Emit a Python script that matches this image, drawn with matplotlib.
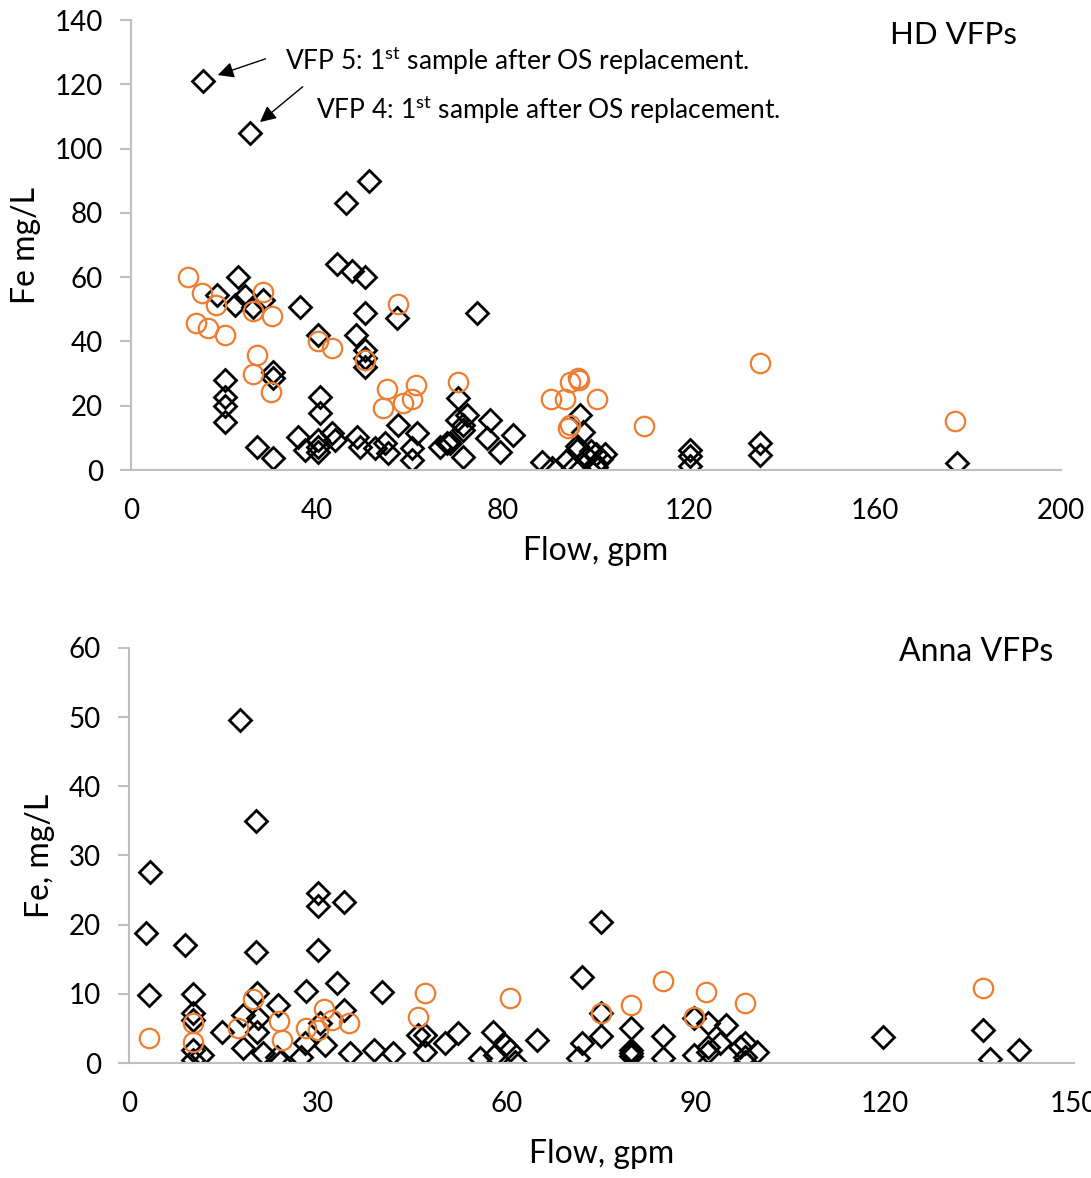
import matplotlib
matplotlib.use('Agg')
import matplotlib.pyplot as plt

plt.rcParams['font.family'] = ['Lato', 'DejaVu Sans']
plt.rcParams['mathtext.fontset'] = 'custom'
plt.rcParams['mathtext.rm'] = 'Lato'

# HD VFPs - black diamonds (flow gpm, Fe mg/L)
hd_black_x = [15.5, 25.6, 46.2, 51.2, 44.3, 47.5, 50.3, 23.0, 18.5, 22.4, 24.5, 26.2, 28.4,
              36.3, 50.3, 57.2, 74.4, 40.2, 48.4, 50.3, 50.3, 50.3, 20.2, 20.2, 20.2, 20.2,
              30.5, 30.5, 40.6, 40.6, 27.1, 30.5, 35.9, 37.4, 40.2, 40.2, 40.2, 43.2, 43.9,
              48.6, 49.2, 52.5, 54.6, 55.3, 57.4, 61.5, 60.4, 60.4, 66.5, 68.6, 70.3, 70.1,
              72.3, 71.4, 71.4, 71.4, 77.2, 76.6, 79.4, 82.2, 68.0, 88.4, 90.5, 96.6, 97.2,
              95.9, 100.0, 102.0, 100.0, 93.8, 95.0, 96.0, 98.0, 99.0, 101.0, 100.0,
              120.2, 120.2, 120.2, 135.3, 135.3, 177.6]
hd_black_y = [121, 105, 83, 90, 64, 62, 60, 60, 54.5, 51.3, 54, 50.8, 53,
              50.7, 49, 47.3, 49, 42, 42, 37.3, 32, 35, 28, 22.7, 20, 15,
              30.5, 28.6, 22.7, 17.7, 7.2, 3.7, 10.3, 6.2, 9.3, 7.2, 5.5, 11.5, 9.3,
              10.3, 7.2, 6.8, 8.4, 5.3, 14, 11.5, 6.8, 3.1, 7.2, 8.4, 22.4, 15.6,
              17, 14, 12.4, 4, 15.6, 10, 5.6, 10.9, 8.4, 2.5, 0.6, 17, 11.8,
              6.2, 5.0, 5.0, 2.0, 3.1, 0.6, 7.5, 4.0, 6.0, 3.5, 1.0,
              6.2, 4.5, 1.2, 8.4, 4.7, 2.2]

# HD VFPs - orange circles
hd_orange_x = [12.3, 15.3, 18.3, 14.0, 16.6, 20.2, 28.4, 26.2, 30.3, 27.1, 26.2, 30.1,
               40.2, 43.2, 50.3, 57.4, 55.0, 54.2, 58.5, 60.4, 61.3, 70.3,
               90.3, 93.3, 94.4, 96.1, 96.3, 100.2, 94.4, 94.0, 110.3, 135.3, 177.2]
hd_orange_y = [60, 55, 51.3, 45.7, 44.2, 42, 55.4, 49.5, 48, 35.8, 29.9, 24.3,
               40.1, 37.9, 34.2, 51.6, 25.2, 19.3, 20.8, 22, 26.4, 27.4,
               22, 22, 27.4, 28.6, 28, 22, 14, 13, 13.8, 33.3, 15.2]

# Anna VFPs - black diamonds
an_black_x = [17.6, 20.2, 3.3, 2.7, 3.2, 9.0, 20.2, 30.0, 30.0, 34.1, 30.0, 74.9, 71.9, 40.2,
              10.2, 10.2, 10.2, 10.2, 11.6, 10.2, 14.8, 18.1, 18.1, 20.3, 20.5, 20.3, 21.3,
              23.7, 23.5, 24.0, 27.4, 28.1, 28.0, 30.3, 31.1, 33.0, 34.1, 35.1, 39.0, 41.9,
              45.9, 47.0, 47.0, 50.2, 52.2, 55.7, 57.8, 58.1, 59.7, 60.5, 61.3, 64.8,
              71.9, 71.3, 74.9, 74.9, 79.8, 79.8, 79.8, 79.8, 84.8, 84.8, 89.8, 91.9, 94.9,
              93.8, 91.9, 91.9, 89.8, 97.8, 97.0, 97.8, 97.8, 99.8, 119.7, 135.6, 136.7, 141.4]
an_black_y = [49.6, 35, 27.6, 18.8, 9.8, 17, 16, 24.6, 22.7, 23.3, 16.3, 20.4, 12.4, 10.3,
              10, 7.2, 6.2, 0.4, 1.2, 1.9, 4.5, 6.9, 2.2, 10.1, 6.5, 4.5, 1.4,
              8.4, 0.9, 0.1, 0.9, 10.4, 2.9, 5.8, 2.6, 11.6, 7.7, 1.4, 1.9, 1.4,
              4, 4, 1.6, 2.9, 4.3, 0.7, 4.5, 1.2, 2.6, 1.9, 0.2, 3.3,
              2.9, 0.7, 7.2, 3.9, 5.1, 1.9, 1.4, 1.0, 3.9, 0.7, 6.5, 5.8, 5.5,
              2.9, 2.3, 1.6, 1.2, 2.9, 2.3, 0.1, 0.9, 1.6, 3.8, 4.8, 0.6, 1.9]

# Anna VFPs - orange circles
an_orange_x = [3.2, 10.2, 10.2, 17.3, 19.8, 23.8, 24.3, 28.1, 30.0, 31.0, 32.2, 34.9,
               46.0, 47.0, 60.5, 74.9, 79.8, 84.8, 91.7, 89.8, 97.8, 135.6]
an_orange_y = [3.6, 5.8, 3.0, 5.1, 9.2, 6.1, 3.3, 5.1, 4.8, 7.8, 6.2, 5.8,
               6.6, 10.1, 9.4, 7.2, 8.4, 11.9, 10.3, 6.7, 8.7, 10.8]

ORANGE = '#ED7D31'
GRAY = '#BFBFBF'


def style_axes(ax):
    for s in ['top', 'right']:
        ax.spines[s].set_visible(False)
    for s in ['left', 'bottom']:
        ax.spines[s].set_color(GRAY)
        ax.spines[s].set_linewidth(1.5)
    ax.tick_params(axis='y', colors=GRAY, labelcolor='black', labelsize=20,
                   direction='out', length=8, width=1.5, pad=12)
    ax.tick_params(axis='x', colors=GRAY, labelcolor='black', labelsize=20,
                   length=0, pad=20)


fig = plt.figure(figsize=(10.91, 11.78), dpi=100)

# top chart
ax1 = fig.add_axes([0.120, 0.601, 0.8525, 0.382])
ax1.plot(hd_black_x, hd_black_y, linestyle='none', marker='D', markersize=11,
         markerfacecolor='none', markeredgecolor='black', markeredgewidth=2.0)
ax1.plot(hd_orange_x, hd_orange_y, linestyle='none', marker='o', markersize=14,
         markerfacecolor='none', markeredgecolor=ORANGE, markeredgewidth=1.6)
ax1.set_xlim(0, 200)
ax1.set_ylim(0, 140)
ax1.set_xticks(range(0, 201, 40))
ax1.set_yticks(range(0, 141, 20))
style_axes(ax1)
ax1.set_xlabel('Flow, gpm', fontsize=23, labelpad=9)
ax1.set_ylabel('Fe mg/L', fontsize=23, labelpad=10)
ax1.text(0.884, 0.967, 'HD VFPs', transform=ax1.transAxes, fontsize=22.5,
         ha='center', va='center')
ax1.annotate('', xy=(18.1, 122.6), xytext=(29.5, 128.2),
             arrowprops=dict(arrowstyle='-|>', color='black', lw=1, mutation_scale=24))
ax1.text(33.1, 127.3, r'VFP 5: 1$^{\mathrm{st}}$ sample after OS replacement.',
         fontsize=19, va='center', ha='left')
ax1.annotate('', xy=(27.3, 107.7), xytext=(37.4, 119.8),
             arrowprops=dict(arrowstyle='-|>', color='black', lw=1, mutation_scale=24))
ax1.text(39.8, 112.0, r'VFP 4: 1$^{\mathrm{st}}$ sample after OS replacement.',
         fontsize=19, va='center', ha='left')

# bottom chart
ax2 = fig.add_axes([0.118, 0.0976, 0.866, 0.3524])
ax2.plot(an_black_x, an_black_y, linestyle='none', marker='D', markersize=11,
         markerfacecolor='none', markeredgecolor='black', markeredgewidth=2.0)
ax2.plot(an_orange_x, an_orange_y, linestyle='none', marker='o', markersize=14,
         markerfacecolor='none', markeredgecolor=ORANGE, markeredgewidth=1.6)
ax2.set_xlim(0, 150)
ax2.set_ylim(0, 60)
ax2.set_xticks(range(0, 151, 30))
ax2.set_yticks(range(0, 61, 10))
style_axes(ax2)
ax2.set_xlabel('Flow, gpm', fontsize=23, labelpad=16)
ax2.set_ylabel('Fe, mg/L', fontsize=23, labelpad=10)
ax2.text(0.897, 0.99, 'Anna VFPs', transform=ax2.transAxes, fontsize=23,
         ha='center', va='center')

fig.savefig('out.png', dpi=100)
